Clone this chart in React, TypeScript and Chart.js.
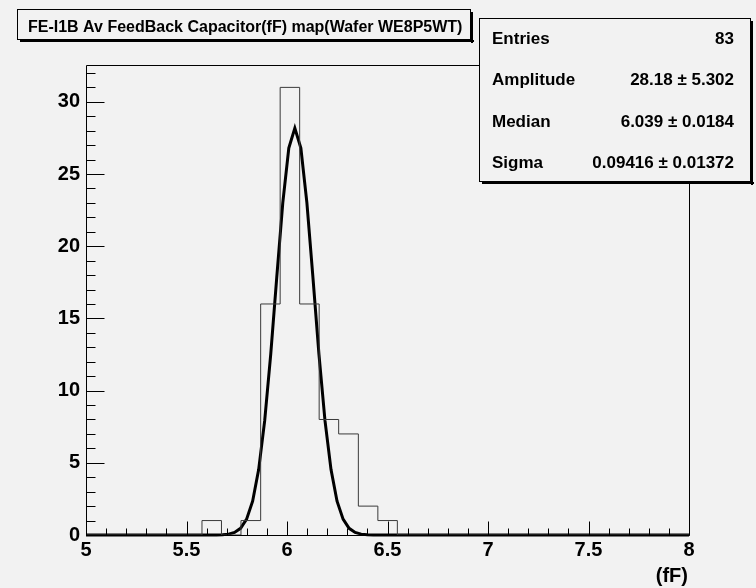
import React, { useEffect, useRef } from "react";
import { Chart, registerables } from "chart.js";

Chart.register(...registerables);

const titleText = "FE-I1B Av FeedBack Capacitor(fF) map(Wafer WE8P5WT)";
const axisUnit = "(fF)";

// histogram bin left edges (last value = right edge of last bin) and counts
const binEdges = [5.577, 5.674, 5.771, 5.869, 5.966, 6.063, 6.16, 6.257, 6.355, 6.452, 6.549];
const binCounts = [1, 0, 1, 16, 31, 16, 8, 7, 2, 1];

// fitted gaussian curve
const fitX = [5.0, 5.649, 5.679, 5.709, 5.739, 5.769, 5.799, 5.829, 5.859, 5.889, 5.919, 5.949, 5.979, 6.009, 6.039, 6.069, 6.099, 6.129, 6.159, 6.189, 6.219, 6.249, 6.279, 6.309, 6.339, 6.369, 6.399, 6.429, 8.0];
const fitY = [0, 0.005, 0.019, 0.061, 0.176, 0.462, 1.095, 2.34, 4.53, 7.92, 12.51, 17.85, 23.0, 26.79, 28.18, 26.79, 23.0, 17.85, 12.51, 7.92, 4.53, 2.34, 1.095, 0.462, 0.176, 0.061, 0.019, 0.005, 0];

const statsLabels = ["Entries", "Amplitude", "Median", "Sigma"];
const statsValues = ["83", "28.18 \u00b1 5.302", "6.039 \u00b1 0.0184", "0.09416 \u00b1 0.01372"];

const xRange = [5, 8];
const yRange = [0, 32.55];
const xStep = 0.5;
const yStep = 5;

const FONT = '"Liberation Sans", Arial, Helvetica, sans-serif';
const BG = "#f2f2f2";

function boxWithShadow(ctx: CanvasRenderingContext2D, l: number, t: number, r: number, b: number) {
  ctx.fillStyle = "#000";
  ctx.fillRect(r, t + 3, 2, b - t);
  ctx.fillRect(l + 3, b, r - l, 2);
  ctx.fillStyle = BG;
  ctx.fillRect(l, t, r - l, b - t);
  ctx.strokeStyle = "#000";
  ctx.lineWidth = 1;
  ctx.strokeRect(l + 0.5, t + 0.5, r - l - 1, b - t - 1);
}

const decorPlugin = {
  id: "rootDecor",
  afterDraw(chart: any) {
    const { ctx, chartArea: a, scales } = chart;
    const xs = scales.x;
    const ys = scales.y;
    ctx.save();
    ctx.strokeStyle = "#000";
    ctx.lineWidth = 1;
    const L = Math.round(a.left) + 0.5;
    const R = Math.round(a.right) + 0.5;
    const T = Math.round(a.top) + 0.5;
    const B = Math.round(a.bottom) + 0.5;
    ctx.beginPath();
    ctx.moveTo(L, T);
    ctx.lineTo(R, T);
    ctx.lineTo(R, B);
    ctx.lineTo(L, B);
    ctx.closePath();
    ctx.stroke();

    // x ticks (major + 4 minor between)
    const xt = xs.ticks.map((t: any) => t.value);
    ctx.beginPath();
    for (let i = 0; i < xt.length; i++) {
      const px = Math.round(xs.getPixelForValue(xt[i])) + 0.5;
      ctx.moveTo(px, B);
      ctx.lineTo(px, B - 14);
      if (i < xt.length - 1) {
        for (let k = 1; k < 5; k++) {
          const v = xt[i] + ((xt[i + 1] - xt[i]) * k) / 5;
          const pm = Math.round(xs.getPixelForValue(v)) + 0.5;
          ctx.moveTo(pm, B);
          ctx.lineTo(pm, B - 7);
        }
      }
    }
    // y ticks
    const yt = ys.ticks.map((t: any) => t.value);
    for (let i = 0; i < yt.length; i++) {
      const py = Math.round(ys.getPixelForValue(yt[i])) + 0.5;
      ctx.moveTo(L, py);
      ctx.lineTo(L + 18, py);
      const next = i < yt.length - 1 ? yt[i + 1] : yt[i] + yStep;
      for (let k = 1; k < 5; k++) {
        const v = yt[i] + ((next - yt[i]) * k) / 5;
        if (v > ys.max) break;
        const pm = Math.round(ys.getPixelForValue(v)) + 0.5;
        ctx.moveTo(L, pm);
        ctx.lineTo(L + 9, pm);
      }
    }
    ctx.stroke();

    // axis unit
    ctx.fillStyle = "#000";
    ctx.font = `bold 20px ${FONT}`;
    ctx.textAlign = "right";
    ctx.textBaseline = "alphabetic";
    ctx.fillText(axisUnit, Math.round(a.right) - 1, 582);

    // title box
    boxWithShadow(ctx, 17, 9, 471, 40);
    ctx.fillStyle = "#000";
    ctx.font = `bold 16px ${FONT}`;
    ctx.textAlign = "left";
    ctx.fillText(titleText, 28, 32);

    // stats box
    boxWithShadow(ctx, 479, 18, 751, 182);
    ctx.font = `bold 17px ${FONT}`;
    ctx.fillStyle = "#000";
    for (let i = 0; i < statsLabels.length; i++) {
      const by = 44 + i * 41.3;
      ctx.textAlign = "left";
      ctx.fillText(statsLabels[i], 492, by);
      ctx.textAlign = "right";
      ctx.fillText(statsValues[i], 734, by);
    }
    ctx.restore();
  },
};

export default function App() {
  const ref = useRef<HTMLCanvasElement | null>(null);
  useEffect(() => {
    if (!ref.current) return;
    const histPts = [{ x: xRange[0], y: 0 }];
    binEdges.forEach((e, i) => histPts.push({ x: e, y: i < binCounts.length ? binCounts[i] : 0 }));
    histPts.push({ x: xRange[1], y: 0 });
    const fitPts = fitX.map((x, i) => ({ x, y: fitY[i] }));

    const chart = new Chart(ref.current, {
      type: "line",
      data: {
        datasets: [
          {
            data: histPts,
            borderColor: "#3a3a3a",
            borderWidth: 1,
            stepped: "before",
            pointRadius: 0,
            fill: false,
          },
          {
            data: fitPts,
            borderColor: "#000",
            borderWidth: 3,
            tension: 0,
            pointRadius: 0,
            fill: false,
            clip: false as any,
          },
        ],
      },
      options: {
        responsive: false,
        animation: false,
        devicePixelRatio: 1,
        layout: { padding: { left: 0, right: 67, top: 65, bottom: 0 } },
        plugins: { legend: { display: false }, tooltip: { enabled: false }, title: { display: false } },
        scales: {
          x: {
            type: "linear",
            min: xRange[0],
            max: xRange[1],
            grid: { display: false, drawTicks: false },
            border: { display: false },
            ticks: {
              stepSize: xStep,
              padding: 3,
              color: "#000",
              maxRotation: 0,
              autoSkip: false,
              includeBounds: false,
              font: { family: FONT, size: 20, weight: "bold" },
              callback: (v: any) => (Math.round(Number(v) * 10) / 10).toString(),
            },
            afterFit: (s: any) => {
              s.height = 53;
            },
          },
          y: {
            type: "linear",
            min: yRange[0],
            max: yRange[1],
            grid: { display: false, drawTicks: false },
            border: { display: false },
            ticks: {
              stepSize: yStep,
              padding: 6,
              color: "#000",
              autoSkip: false,
              includeBounds: false,
              font: { family: FONT, size: 20, weight: "bold" },
              callback: (v: any) => Math.round(Number(v)).toString(),
            },
            afterFit: (s: any) => {
              s.width = 86;
            },
          },
        },
      },
      plugins: [decorPlugin],
    });
    return () => chart.destroy();
  }, []);

  return (
    <div style={{ position: "absolute", left: 0, top: 0, width: 756, height: 588, background: BG }}>
      <canvas ref={ref} width={756} height={588} style={{ display: "block", width: 756, height: 588 }} />
    </div>
  );
}
